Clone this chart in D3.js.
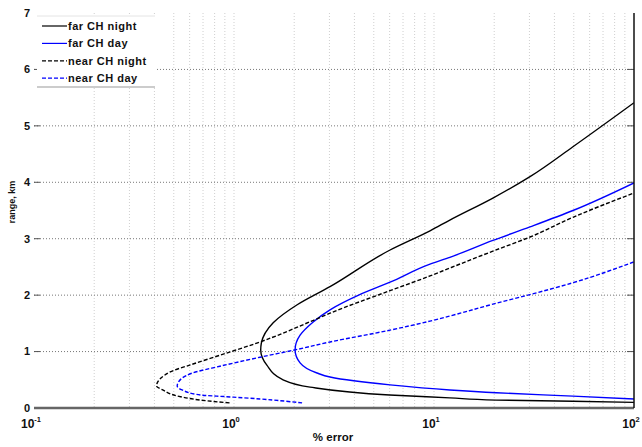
<!DOCTYPE html>
<html>
<head>
<meta charset="utf-8">
<script src="https://cdn.jsdelivr.net/npm/d3@7"></script>
<style>
  body { margin: 0; background: #fff; }
  text { font-family: "Liberation Sans", Arial, sans-serif; font-weight: bold; }
</style>
</head>
<body>
<div id="chart"></div>
<script>
// curves, ordered along each curve (low range -> high range)
const farNightRange = [0.10, 0.12, 0.14, 0.18, 0.23, 0.37, 0.50, 0.76, 1.03, 1.15, 1.51, 1.83, 2.15, 2.80, 3.14, 3.33, 3.72, 4.10, 4.63, 5.41];
const farNightErr   = [100, 49.5, 20.5, 12, 6.0, 2.40, 1.76, 1.46, 1.36, 1.37, 1.57, 2.07, 3.02, 6.03, 9.55, 12, 19.7, 30.2, 49.5, 100];

const farDayRange = [0.16, 0.21, 0.27, 0.32, 0.41, 0.55, 0.62, 0.80, 1.03, 1.29, 1.52, 1.74, 2.00, 2.23, 2.55, 2.67, 2.97, 3.21, 3.50, 3.99];
const farDayErr   = [100, 49.5, 20.5, 12, 6.03, 3.02, 2.60, 2.14, 2.02, 2.14, 2.48, 3.02, 4.20, 6.03, 9.55, 12, 19.7, 30.2, 49.5, 100];

const nearNightRange = [0.09, 0.14, 0.20, 0.32, 0.39, 0.64, 0.76, 0.99, 1.15, 1.55, 1.68, 2.08, 2.34, 2.48, 2.78, 3.03, 3.38, 3.81];
const nearNightErr   = [0.95, 0.68, 0.54, 0.44, 0.41, 0.48, 0.60, 0.95, 1.30, 2.48, 3.02, 6.03, 9.55, 12, 19.7, 30.2, 49.5, 100];

const nearDayRange = [0.09, 0.16, 0.20, 0.23, 0.32, 0.39, 0.53, 0.62, 0.74, 0.90, 1.03, 1.17, 1.38, 1.54, 1.63, 1.84, 2.01, 2.22, 2.59];
const nearDayErr   = [2.19, 1.35, 0.92, 0.68, 0.55, 0.52, 0.55, 0.62, 0.85, 1.35, 2.02, 3.02, 6.03, 9.55, 12, 19.7, 30.2, 49.5, 100];

const seriesNames = ["far CH night", "far CH day", "near CH night", "near CH day"];
const seriesColors = ["#000000", "#0000ff", "#000000", "#0000ff"];
const seriesDash = [null, null, "4,2", "4,2"];

const xTicks = [0.1, 1, 10, 100];
const xTickExp = ["-1", "0", "1", "2"];
const yTicks = [0, 1, 2, 3, 4, 5, 6, 7];

const width = 642, height = 447;
const margin = {top: 13, right: 8, bottom: 39, left: 34};

const svg = d3.select("#chart").append("svg")
  .attr("width", width)
  .attr("height", height);

const x = d3.scaleLog().domain([0.1, 100]).range([margin.left, width - margin.right]);
const y = d3.scaleLinear().domain([0, 7]).range([height - margin.bottom, margin.top]);

// minor vertical grid (2..9 each decade)
const minor = [];
[0.1, 1, 10].forEach(d => { for (let k = 2; k <= 9; k++) minor.push(d * k); });

svg.append("g").selectAll("line")
  .data(minor.concat([1, 10]))
  .enter().append("line")
  .attr("x1", d => x(d)).attr("x2", d => x(d))
  .attr("y1", y(7)).attr("y2", y(0))
  .attr("stroke", "#cfcfcf")
  .attr("stroke-width", 1)
  .attr("stroke-dasharray", "1,2");

// horizontal grid
svg.append("g").selectAll("line")
  .data(yTicks.filter(d => d > 0 && d < 7))
  .enter().append("line")
  .attr("x1", x(0.1)).attr("x2", x(100))
  .attr("y1", d => y(d)).attr("y2", d => y(d))
  .attr("stroke", "#777")
  .attr("stroke-width", 1)
  .attr("stroke-dasharray", "1,2");

// y tick marks, left and right
svg.append("g").selectAll("line")
  .data(yTicks.slice(1, 7))
  .enter().append("line")
  .attr("x1", x(0.1)).attr("x2", x(0.1) + 6)
  .attr("y1", d => y(d)).attr("y2", d => y(d))
  .attr("stroke", "#555").attr("stroke-width", 1);
svg.append("g").selectAll("line")
  .data(yTicks.slice(1, 7))
  .enter().append("line")
  .attr("x1", x(100) - 7).attr("x2", x(100))
  .attr("y1", d => y(d)).attr("y2", d => y(d))
  .attr("stroke", "#555").attr("stroke-width", 1);

// y tick labels
svg.append("g").selectAll("text")
  .data(yTicks)
  .enter().append("text")
  .attr("x", x(0.1) - 4)
  .attr("y", d => y(d))
  .attr("dy", "0.35em")
  .attr("text-anchor", "end")
  .attr("font-size", "11px")
  .attr("fill", "#111")
  .text(d => d);

// x tick labels with exponent
const xl = svg.append("g").selectAll("text")
  .data(xTicks)
  .enter().append("text")
  .attr("x", d => x(d) - 3)
  .attr("y", y(0) + 20)
  .attr("text-anchor", "middle")
  .attr("font-size", "12px")
  .attr("fill", "#111");
xl.append("tspan").text("10");
xl.append("tspan")
  .attr("dy", "-6")
  .attr("font-size", "7.5px")
  .text((d, i) => xTickExp[i]);

// curves
svg.append("clipPath").attr("id", "plotclip")
  .append("rect")
  .attr("x", x(0.1)).attr("y", y(7))
  .attr("width", x(100) - x(0.1)).attr("height", y(0) - y(7));

// range grows along every curve, so interpolate monotone in y
const line = d3.line()
  .curve(d3.curveMonotoneY)
  .x(d => x(d[0]))
  .y(d => y(d[1]));

const allSeries = [
  d3.zip(farNightErr, farNightRange),
  d3.zip(farDayErr, farDayRange),
  d3.zip(nearNightErr, nearNightRange),
  d3.zip(nearDayErr, nearDayRange)
];

svg.append("g").attr("clip-path", "url(#plotclip)")
  .selectAll("path")
  .data(allSeries)
  .enter().append("path")
  .attr("d", d => line(d))
  .attr("fill", "none")
  .attr("stroke", (d, i) => seriesColors[i])
  .attr("stroke-width", 1.4)
  .attr("stroke-dasharray", (d, i) => seriesDash[i]);

// axes lines
svg.append("line")
  .attr("x1", x(0.1)).attr("x2", x(100))
  .attr("y1", y(0)).attr("y2", y(0))
  .attr("stroke", "#666").attr("stroke-width", 2.5);
svg.append("line")
  .attr("x1", x(100)).attr("x2", x(100))
  .attr("y1", y(7)).attr("y2", y(0))
  .attr("stroke", "#111").attr("stroke-width", 1.5);

// axis titles
svg.append("text")
  .attr("x", 333).attr("y", 441)
  .attr("text-anchor", "middle")
  .attr("font-size", "11.5px")
  .attr("fill", "#111")
  .text("% error");

svg.append("text")
  .attr("transform", "translate(15, 202) rotate(-90)")
  .attr("text-anchor", "middle")
  .attr("font-size", "9px")
  .attr("fill", "#111")
  .text("range, km");

// legend
const legend = svg.append("g");
legend.append("rect")
  .attr("x", 37).attr("y", 16)
  .attr("width", 118).attr("height", 71)
  .attr("fill", "#fff");
legend.append("line")
  .attr("x1", 37).attr("x2", 155).attr("y1", 16).attr("y2", 16)
  .attr("stroke", "#e4e4e4");
legend.append("line")
  .attr("x1", 37).attr("x2", 155).attr("y1", 87).attr("y2", 87)
  .attr("stroke", "#999");

const rows = legend.selectAll("g.row")
  .data(seriesNames)
  .enter().append("g")
  .attr("class", "row")
  .attr("transform", (d, i) => `translate(0, ${26 + i * 17.4})`);
rows.append("line")
  .attr("x1", 42).attr("x2", 67)
  .attr("stroke", (d, i) => seriesColors[i])
  .attr("stroke-width", 1.2)
  .attr("stroke-dasharray", (d, i) => seriesDash[i]);
rows.append("text")
  .attr("x", 68).attr("dy", "0.35em")
  .attr("font-size", "11px")
  .attr("letter-spacing", "0.5px")
  .attr("fill", "#111")
  .text(d => d);
</script>
</body>
</html>
